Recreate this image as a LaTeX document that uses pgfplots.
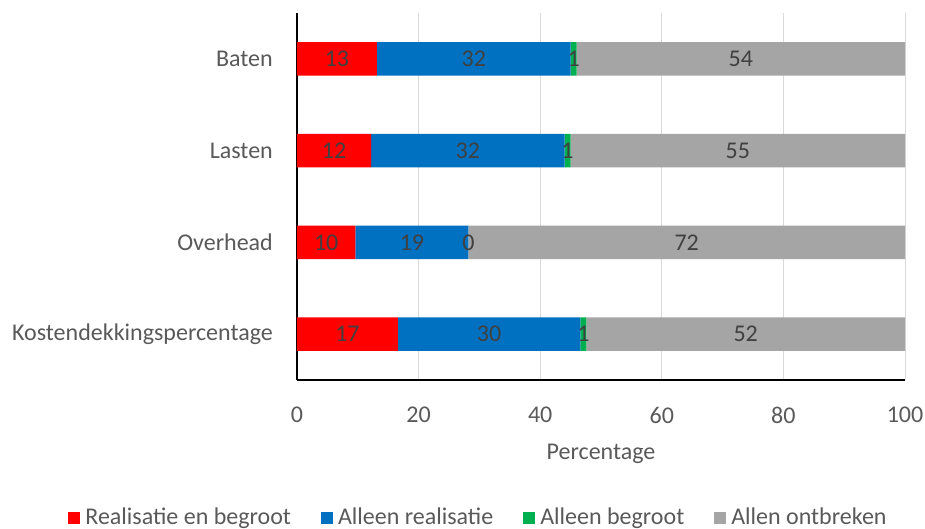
\documentclass[border=0pt]{standalone}
\usepackage{pgfplots}
\usepackage{pgfplotstable}
\pgfplotsset{compat=1.18}
\usepackage{fontspec}
\setmainfont{Carlito}
\definecolor{cRed}{HTML}{FF0000}
\definecolor{cBlue}{HTML}{0070C0}
\definecolor{cGreen}{HTML}{00B050}
\definecolor{cGray}{HTML}{A5A5A5}
\definecolor{txt}{HTML}{595959}
\definecolor{lbl}{HTML}{404040}
% y: 0 = Kostendekkingspercentage, 1 = Overhead, 2 = Lasten, 3 = Baten
\pgfplotstableread{
y v
0 16.6
1 9.6
2 12.2
3 13.15
}\tRed
\pgfplotstableread{
y v
0 30.0
1 18.6
2 31.8
3 31.85
}\tBlue
\pgfplotstableread{
y v
0 1.0
1 0.0
2 1.0
3 1.0
}\tGreen
\pgfplotstableread{
y v
0 52.4
1 71.8
2 55.0
3 54.0
}\tGray
% data labels: centre of each segment and its shown value
\pgfplotstableread{
x y lab
8.3 0 17
31.6 0 30
47.1 0 1
73.8 0 52
4.8 1 10
18.9 1 19
28.2 1 0
64.1 1 72
6.1 2 12
28.1 2 32
44.5 2 1
72.5 2 55
6.575 3 13
29.075 3 32
45.5 3 1
73.0 3 54
}\tLab
\begin{document}
\begin{tikzpicture}[x=1pt,y=1pt]
\fontsize{24}{28}\selectfont
\useasboundingbox (-297pt,-149pt) rectangle (628pt,380pt);
\begin{axis}[
  at={(0,0)}, anchor=south west,
  scale only axis, width=608pt, height=367pt,
  xbar stacked, bar width=0.365,
  xmin=0, xmax=100, ymin=-0.5, ymax=3.5,
  xtick={0,20,40,60,80,100},
  ytick={0,1,2,3},
  yticklabels={Kostendekkingspercentage,Overhead,Lasten,Baten},
  axis x line*=bottom, axis y line*=left,
  axis line style={black, line width=1.5pt, -},
  xmajorgrids, major grid style={draw=black!15, line width=1pt},
  major tick length=0pt,
  tick label style={text=txt, font=\fontsize{24}{28}\selectfont},
  /pgf/number format/assume math mode=true,
  xticklabel style={yshift=-19pt},
  yticklabel style={xshift=-16pt},
  xlabel={Percentage},
  xlabel style={text=txt, font=\fontsize{24}{28}\selectfont, yshift=-4pt},
  legend style={at={(0.2985,-0.376)}, anchor=center, legend columns=4, draw=none, fill=none,
    font=\fontsize{24}{28}\selectfont, text=txt,
    /tikz/every odd column/.append style={column sep=3pt},
    /tikz/every even column/.append style={column sep=28pt}},
  legend image code/.code={\fill[#1,draw=none] (0pt,-6pt) rectangle (12pt,6pt);},
  legend cell align=left,
]
\addplot[fill=cRed, draw=none] table[x=v, y=y] {\tRed};
\addplot[fill=cBlue, draw=none] table[x=v, y=y] {\tBlue};
\addplot[fill=cGreen, draw=none] table[x=v, y=y] {\tGreen};
\addplot[fill=cGray, draw=none] table[x=v, y=y] {\tGray};
\legend{Realisatie en begroot, Alleen realisatie, Alleen begroot, Allen ontbreken}
\end{axis}
\begin{axis}[
  at={(0,0)}, anchor=south west,
  scale only axis, width=608pt, height=367pt,
  xmin=0, xmax=100, ymin=-0.5, ymax=3.5,
  hide axis, clip=false,
]
\addplot[only marks, mark size=0pt, draw=none,
  point meta=explicit symbolic, nodes near coords,
  every node near coord/.append style={anchor=center, text=lbl, font=\fontsize{24}{28}\selectfont, inner sep=0pt}]
  table[x=x, y=y, meta=lab] {\tLab};
\end{axis}
\end{tikzpicture}
\end{document}
